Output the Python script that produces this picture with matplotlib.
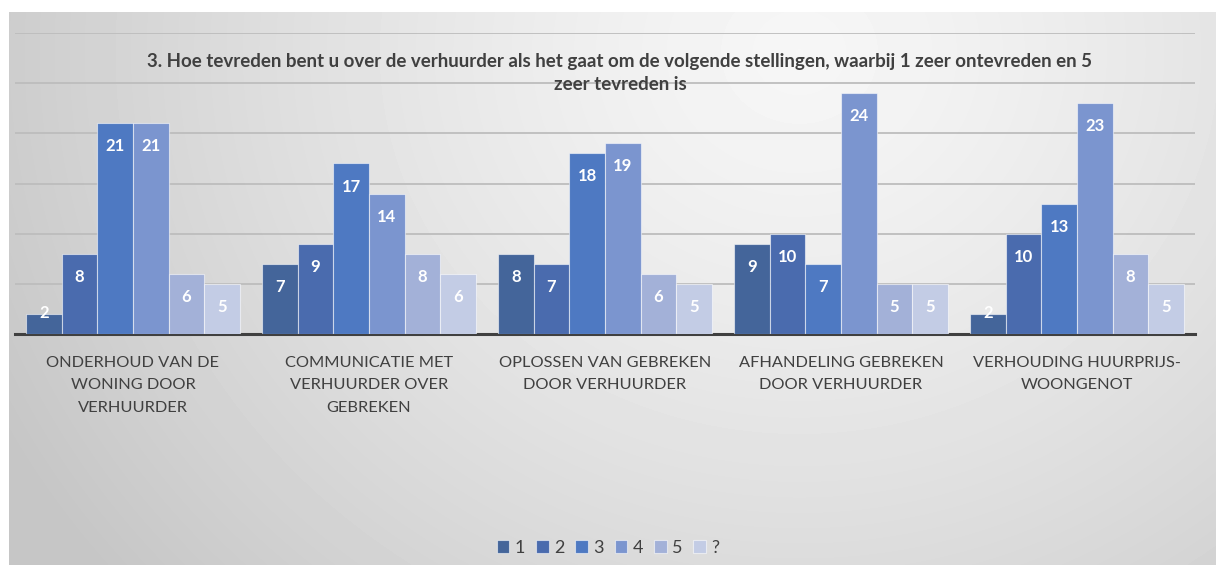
import numpy as np
import matplotlib.pyplot as plt

plt.rcParams["font.family"] = ["Lato", "DejaVu Sans"]

categories = ["ONDERHOUD VAN DE\nWONING DOOR\nVERHUURDER",
              "COMMUNICATIE MET\nVERHUURDER OVER\nGEBREKEN",
              "OPLOSSEN VAN GEBREKEN\nDOOR VERHUURDER",
              "AFHANDELING GEBREKEN\nDOOR VERHUURDER",
              "VERHOUDING HUURPRIJS-\nWOONGENOT"]
series_names = ["1", "2", "3", "4", "5", "?"]
s1 = [2, 7, 8, 9, 2]
s2 = [8, 9, 7, 10, 10]
s3 = [21, 17, 18, 7, 13]
s4 = [21, 14, 19, 24, 23]
s5 = [6, 8, 6, 5, 8]
s_unknown = [5, 6, 5, 5, 5]
series = [s1, s2, s3, s4, s5, s_unknown]
colors = ["#44659A", "#4A6BAE", "#4E79C2", "#7B95CF", "#A3B1D8", "#C3CCE5"]
title = ("3. Hoe tevreden bent u over de verhuurder als het gaat om de volgende stellingen, waarbij 1 zeer ontevreden en 5\n"
         "zeer tevreden is")

W, H = 1216, 565
fig = plt.figure(figsize=(W / 100, H / 100), dpi=100)
fig.patch.set_facecolor("white")

# gray gradient panel
bg = fig.add_axes([9 / W, 0, (W - 9) / W, (H - 12) / H])
yy, xx = np.mgrid[0:H - 12, 0:W - 9]
d = np.sqrt(((xx - 790) / 1.0) ** 2 + ((yy - 40) * 1.1) ** 2)
shade = 0.965 - 0.19 * np.clip(d / 900, 0, 1) ** 1.3
bg.imshow(shade, cmap="gray", vmin=0, vmax=1, aspect="auto", interpolation="bilinear")
bg.axis("off")

ax = fig.add_axes([15 / W, (H - 334) / H, 1180 / W, 301 / H])
ax.patch.set_alpha(0)
x = np.arange(len(categories))
bw = 0.151
for i, (vals, name, c) in enumerate(zip(series, series_names, colors)):
    pos = x + (i - 2.5) * bw
    ax.bar(pos, vals, width=bw, color=c, edgecolor=(1, 1, 1, 0.55), linewidth=0.8,
           label=name, zorder=3)
    for px, v in zip(pos, vals):
        ax.text(px, max(v - 2.3, 2.1), str(v), ha="center", va="center",
                color="white", fontsize=12, fontweight="bold", zorder=4)

ax.set_xlim(-0.5, len(categories) - 0.5)
ax.set_ylim(0, 30)
ax.set_yticks([5, 10, 15, 20, 25, 30])
ax.yaxis.grid(True, color="#BDBDBD", linewidth=1.3, zorder=0)
ax.tick_params(left=False, labelleft=False, bottom=False)
for s in ["top", "right", "left"]:
    ax.spines[s].set_visible(False)
ax.spines["bottom"].set_color("#404040")
ax.spines["bottom"].set_linewidth(2.2)
ax.set_xticks(x)
ax.set_xticklabels(categories, fontsize=11.8, color="#404040", linespacing=1.8)
ax.tick_params(axis="x", pad=12)

fig.text(620 / W, 1 - 73 / H, title, ha="center", va="center", fontsize=13.5,
         fontweight="bold", color="#404040", linespacing=1.45)

leg = fig.legend(loc="center", bbox_to_anchor=(608 / W, 1 - 548 / H), ncol=6,
                 frameon=False, fontsize=13, handlelength=0.7, handleheight=0.7,
                 handletextpad=0.3, columnspacing=0.6)
for t in leg.get_texts():
    t.set_color("#404040")

fig.savefig("out.png", dpi=100)
